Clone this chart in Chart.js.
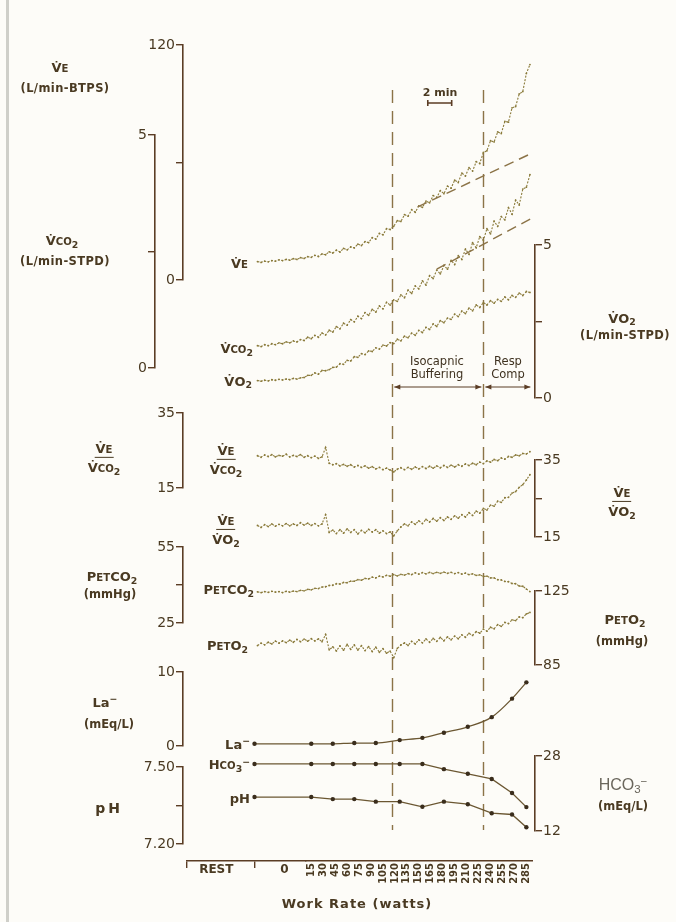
<!DOCTYPE html>
<html>
<head>
<meta charset="utf-8">
<script src="https://cdn.jsdelivr.net/npm/chart.js@4.4.1/dist/chart.umd.min.js"></script>
<style>
  html, body { margin: 0; padding: 0; background: #fdfcf8; }
  #wrap { position: relative; width: 676px; height: 922px; overflow: hidden; }
  #frame { position: absolute; left: 6px; top: 0; width: 3px; height: 922px; background: #cfcfc9; }
  #chart { position: absolute; left: 0; top: 0; }
  .t { position: absolute; white-space: nowrap; color: #4a3a22; font-family: "DejaVu Sans", sans-serif; font-weight: bold; line-height: 1; }
  .c { transform: translate(-50%, -50%); }
  .r { transform: translate(-100%, -50%); }
  .sm { font-size: 0.78em; }
  sub { font-size: 0.72em; vertical-align: -0.3em; line-height: 0; }
  sup { font-size: 0.72em; vertical-align: 0.45em; line-height: 0; }
  .frac { display: inline-flex; flex-direction: column; align-items: center; }
  .frac .n { border-bottom: 1.6px solid #4a3a22; padding: 0 1px 2px; }
  .frac .d { padding-top: 3px; }
  .thin { font-family: "Liberation Sans", sans-serif; font-weight: normal; color: #6a665c; }
  .phase { font-weight: normal; color: #3f3220; }
</style>
</head>
<body>
<div id="wrap">
  <div id="frame"></div>
  <canvas id="chart" width="676" height="922"></canvas>

  <!-- left-hand axis titles -->
  <div class="t c" style="left:60px;top:68px;font-size:13px">V&#775;<span class="sm">E</span></div>
  <div class="t c" style="left:65px;top:89px;font-size:11.5px;letter-spacing:0.4px">(L/min-BTPS)</div>
  <div class="t c" style="left:62px;top:241px;font-size:13px">V&#775;<span class="sm">CO</span><sub>2</sub></div>
  <div class="t c" style="left:65px;top:262px;font-size:11.5px;letter-spacing:0.4px">(L/min-STPD)</div>
  <div class="t c" style="left:104px;top:458px;font-size:13px"><span class="frac"><span class="n">V&#775;<span class="sm">E</span></span><span class="d">V&#775;<span class="sm">CO</span><sub>2</sub></span></span></div>
  <div class="t c" style="left:112px;top:577px;font-size:13px">P<span class="sm">ET</span>CO<sub>2</sub></div>
  <div class="t c" style="left:110px;top:595px;font-size:11.5px">(mmHg)</div>
  <div class="t c" style="left:105px;top:702px;font-size:13px">La<sup>&minus;</sup></div>
  <div class="t c" style="left:109px;top:725px;font-size:11.5px">(mEq/L)</div>
  <div class="t c" style="left:109px;top:808px;font-size:14px;letter-spacing:3px">pH</div>

  <!-- trace labels -->
  <div class="t r" style="left:248px;top:264px;font-size:13px">V&#775;<span class="sm">E</span></div>
  <div class="t r" style="left:253px;top:349px;font-size:13px">V&#775;<span class="sm">CO</span><sub>2</sub></div>
  <div class="t r" style="left:252px;top:381px;font-size:13px">V&#775;O<sub>2</sub></div>
  <div class="t c" style="left:226px;top:460px;font-size:13px"><span class="frac"><span class="n">V&#775;<span class="sm">E</span></span><span class="d">V&#775;<span class="sm">CO</span><sub>2</sub></span></span></div>
  <div class="t c" style="left:226px;top:530px;font-size:13px"><span class="frac"><span class="n">V&#775;<span class="sm">E</span></span><span class="d">V&#775;O<sub>2</sub></span></span></div>
  <div class="t r" style="left:254px;top:590px;font-size:13px">P<span class="sm">ET</span>CO<sub>2</sub></div>
  <div class="t r" style="left:248px;top:646px;font-size:13px">P<span class="sm">ET</span>O<sub>2</sub></div>
  <div class="t r" style="left:250px;top:744px;font-size:13px">La<sup>&minus;</sup></div>
  <div class="t r" style="left:250px;top:765px;font-size:13px">H<span class="sm">CO</span><sub>3</sub><sup>&minus;</sup></div>
  <div class="t r" style="left:250px;top:798px;font-size:13px">pH</div>

  <!-- right-hand axis titles -->
  <div class="t c" style="left:622px;top:318px;font-size:13px">V&#775;O<sub>2</sub></div>
  <div class="t c" style="left:625px;top:336px;font-size:11.5px;letter-spacing:0.4px">(L/min-STPD)</div>
  <div class="t c" style="left:622px;top:502px;font-size:13px"><span class="frac"><span class="n">V&#775;<span class="sm">E</span></span><span class="d">V&#775;O<sub>2</sub></span></span></div>
  <div class="t c" style="left:625px;top:620px;font-size:13px">P<span class="sm">ET</span>O<sub>2</sub></div>
  <div class="t c" style="left:622px;top:642px;font-size:11.5px">(mmHg)</div>
  <div class="t c thin" style="left:623px;top:785px;font-size:16px">HCO<sub>3</sub><sup>&minus;</sup></div>
  <div class="t c" style="left:623px;top:807px;font-size:11.5px">(mEq/L)</div>

  <!-- phase annotations -->
  <div class="t c" style="left:440px;top:92px;font-size:11px">2 min</div>
  <div class="t c phase" style="left:437px;top:362px;font-size:11.5px">Isocapnic</div>
  <div class="t c phase" style="left:437px;top:375px;font-size:11.5px">Buffering</div>
  <div class="t c phase" style="left:508px;top:362px;font-size:11.5px">Resp</div>
  <div class="t c phase" style="left:508px;top:375px;font-size:11.5px">Comp</div>
  <div class="t c" style="left:357px;top:903px;font-size:13px;letter-spacing:1px">Work Rate (watts)</div>
</div>

<script>
// ---- breath-by-breath gas exchange (time in minutes from start of unloaded cycling) ----
const breathTimes = [0,0.3,0.6,0.9,1.2,1.5,1.8,2.1,2.4,2.7,3,3.3,3.6,3.9,4.2,4.5,4.8,5.1,5.4,5.7,6,6.3,6.6,6.9,7.2,7.5,7.8,8.1,8.4,8.7,9,9.3,9.6,9.9,10.2,10.5,10.8,11.1,11.4,11.7,12,12.3,12.6,12.9,13.2,13.5,13.8,14.1,14.4,14.7,15,15.3,15.6,15.9,16.2,16.5,16.8,17.1,17.4,17.7,18,18.3,18.6,18.9,19.2,19.5,19.8,20.1,20.4,20.7,21,21.3,21.6,21.9,22.2,22.5,22.8];

// VE, L/min BTPS
const veValues = [9.4,9.0,9.6,9.3,9.9,9.6,10.3,9.9,10.5,10.1,10.9,10.5,11.4,11.0,11.9,11.6,12.6,12.0,13.3,12.9,14.4,13.8,15.2,14.3,16.1,15.4,16.9,16.4,18.3,17.6,19.6,19.1,21.6,20.9,23.8,23.1,26.2,25.8,27.4,30.3,29.9,33.4,32.6,35.9,34.6,37.8,37.1,40.3,39.4,43.1,42.2,45.6,44.1,47.9,46.9,51.0,49.8,54.6,53.1,57.4,55.6,60.4,59.5,65.1,66.0,71.1,70.5,75.6,74.8,81.0,80.6,87.9,88.6,95.0,96.2,105.5,110];
// VCO2, L/min STPD
const vco2Values = [0.48,0.46,0.50,0.48,0.52,0.50,0.54,0.52,0.56,0.54,0.58,0.56,0.61,0.59,0.66,0.63,0.70,0.66,0.75,0.71,0.81,0.77,0.89,0.84,0.96,0.92,1.04,0.99,1.11,1.06,1.19,1.13,1.26,1.20,1.33,1.27,1.41,1.35,1.46,1.43,1.57,1.51,1.67,1.60,1.76,1.70,1.87,1.78,1.98,1.92,2.10,2.02,2.20,2.12,2.31,2.22,2.41,2.33,2.55,2.44,2.69,2.58,2.82,2.74,2.99,2.88,3.15,3.04,3.25,3.18,3.44,3.30,3.60,3.50,3.84,3.88,4.15];
// VO2, L/min STPD
const vo2Values = [0.57,0.55,0.58,0.56,0.60,0.58,0.61,0.59,0.62,0.60,0.64,0.62,0.66,0.67,0.74,0.74,0.82,0.78,0.90,0.89,0.93,1.00,1.01,1.12,1.10,1.23,1.21,1.35,1.33,1.45,1.42,1.54,1.52,1.64,1.60,1.73,1.70,1.81,1.78,1.92,1.87,2.02,1.97,2.12,2.05,2.21,2.14,2.31,2.24,2.42,2.34,2.53,2.46,2.61,2.57,2.74,2.66,2.84,2.76,2.94,2.85,3.04,2.96,3.12,3.04,3.18,3.10,3.22,3.16,3.30,3.21,3.35,3.29,3.43,3.35,3.48,3.45];
// ventilatory equivalents
const veVco2Values = [23.6,23.2,23.8,23.4,23.9,23.3,23.7,23.5,24.0,23.3,23.7,23.4,23.9,23.2,23.6,23.1,23.5,22.9,23.3,25.8,21.6,21.2,21.5,20.9,21.3,20.8,21.2,20.6,21.0,20.5,20.9,20.3,20.7,20.1,20.5,19.9,20.3,19.8,19.3,20.0,20.4,19.9,20.5,20.0,20.6,20.1,20.7,20.2,20.8,20.3,20.9,20.4,21.0,20.5,21.1,20.6,21.2,20.8,21.4,21.0,21.6,21.2,21.9,21.5,22.2,21.9,22.6,22.3,23.0,22.7,23.4,23.2,23.8,23.6,24.2,24.1,24.7];
const veVo2Values = [18.0,17.5,18.2,17.7,18.4,17.8,18.3,17.9,18.5,17.9,18.4,18.0,18.7,18.1,18.6,18.0,18.5,17.9,18.4,20.8,16.2,16.8,15.9,16.9,16.0,17.1,16.2,16.9,15.8,16.7,16.1,17.0,16.3,16.9,16.0,16.6,15.9,16.3,15.3,16.6,17.6,18.4,17.9,18.9,18.3,19.2,18.5,19.6,18.9,19.8,19.1,20.0,19.3,20.2,19.6,20.5,19.9,20.8,20.2,21.3,20.6,21.7,21.2,22.4,22.0,23.3,23.0,24.3,24.0,25.2,25.3,26.4,26.8,27.9,28.6,29.8,31.2];
// end-tidal pressures, mmHg
const petco2Values = [37.3,37.0,37.4,37.1,37.5,37.2,37.4,37.0,37.5,37.2,37.6,37.4,37.9,37.7,38.3,38.1,38.7,38.6,39.2,39.3,39.8,39.9,40.5,40.4,41.0,40.9,41.5,41.5,42.1,41.9,42.6,42.4,43.1,42.8,43.5,43.2,43.8,43.5,44.1,43.6,44.2,43.9,44.5,44.1,44.8,44.3,44.9,44.4,45.0,44.5,45.0,44.6,45.1,44.6,45.0,44.5,44.9,44.3,44.7,44.1,44.4,43.8,44.0,43.4,43.5,42.8,42.8,42.1,42.0,41.4,41.3,40.6,40.5,39.6,39.5,38.4,37.4];
const peto2Values = [95.5,96.8,95.9,97.3,96.4,97.9,96.8,98.0,97.1,98.4,97.3,98.8,97.6,99.0,97.9,99.2,98.0,99.1,97.6,101.5,93.2,94.8,92.6,95.3,93.0,96.1,93.5,95.8,93.1,95.4,92.8,94.9,92.3,94.6,91.9,93.8,91.4,92.5,89.0,94.0,95.8,96.9,95.6,97.8,96.4,98.6,97.0,99.1,97.3,99.4,97.8,99.9,98.1,100.2,98.6,100.6,99.2,101.3,100.0,102.1,101.0,103.0,102.2,104.4,103.3,105.4,104.6,106.8,105.9,108.0,107.4,109.4,109.0,111.0,110.6,112.6,113.4];

// ---- arterial blood samples ----
const sampleTimes = [-0.25, 4.5, 6.3, 8.1, 9.9, 11.9, 13.8, 15.6, 17.6, 19.6, 21.3, 22.5];
const lactate = [0.3, 0.3, 0.3, 0.4, 0.4, 0.8, 1.1, 1.8, 2.6, 3.9, 6.4, 8.6];           // mEq/L
const bicarbonate = [26.3, 26.3, 26.3, 26.3, 26.3, 26.3, 26.3, 25.2, 24.2, 23.1, 20.1, 17.1]; // mEq/L
const bloodPH = [7.383, 7.383, 7.375, 7.375, 7.365, 7.365, 7.345, 7.365, 7.355, 7.32, 7.315, 7.265];

// ---- linear trends through the isocapnic buffering phase ----
const veTrendTimes = [13.4, 22.8];
const veTrendValues = [37.3, 64.3];
const vco2TrendTimes = [15.0, 22.85];
const vco2TrendValues = [2.12, 3.2];

// ---- phase boundaries and scale bar (minutes) ----
const thresholdTimes = [11.28, 18.9];
const exerciseEnd = 23.0;
const scaleBarTimes = [14.25, 16.25];

// ---- axis ticks ----
const veTicks = [0, 60, 120];
const vco2Ticks = [0, 2.5, 5];
const vo2Ticks = [0, 2.5, 5];
const ratioTicks = [15, 25, 35];
const petco2Ticks = [25, 40, 55];
const peto2Ticks = [85, 105, 125];
const lactateTicks = [0, 5, 10];
const phTicks = [7.20, 7.35, 7.50];
const hco3Ticks = [12, 20, 28];
const workRates = [15, 30, 45, 60, 75, 90, 105, 120, 135, 150, 165, 180, 195, 210, 225, 240, 255, 270, 285];
const workRateTimes = [4.5, 5.5, 6.5, 7.5, 8.5, 9.5, 10.5, 11.5, 12.5, 13.5, 14.5, 15.5, 16.5, 17.5, 18.5, 19.5, 20.5, 21.5, 22.5];
const restTickTimes = [-5.9, -3.45, -0.25, 2.25];
const restTickLabels = ['', 'REST', '', '0'];

// ---- styling / page geometry ----
const AX = '#5b3d25', TXT = '#4a3a22', TRACE = '#8a7a3a', DASH = '#8b7347', BLOOD = '#6b5732', DOT = '#3a2d1c';
const LAYOUT = { thresholdTop: 90, thresholdBottom: 830, phaseArrowY: 387, scaleBarY: 103,
                 timeMin: -6.234, timeMax: 23.222, tickLen: 7 };
const FONT = 'DejaVu Sans';
const TICK_FONT_SIZE = 14;

const pts = (xs, ys) => xs.map((x, i) => ({ x, y: ys[i] }));
const measureCtx = document.createElement('canvas').getContext('2d');
function widestLabel(labels) {
  measureCtx.font = `${TICK_FONT_SIZE}px ${FONT}`;
  return Math.max(...labels.map(l => measureCtx.measureText(l).width));
}

// one bracket-style value axis; inner-left axes draw their numbers over the neighbouring column
function bracketAxis(side, stack, slot, order, ticks, width, digits, overhang) {
  const fmt = (v, i) => (i === 1 ? '' : Number(v).toFixed(digits));
  const tickOpts = { padding: 1, color: TXT, font: { family: FONT, size: TICK_FONT_SIZE }, callback: fmt };
  if (overhang) {
    const w = widestLabel(ticks.map(fmt));
    Object.assign(tickOpts, { mirror: true, crossAlign: 'far', padding: -(LAYOUT.tickLen + 1) - w });
  }
  return {
    type: 'linear', position: side, stack, stackWeight: slot, weight: order,
    min: ticks[0], max: ticks[ticks.length - 1],
    afterBuildTicks: s => { s.ticks = ticks.map(v => ({ value: v })); },
    afterFit: s => { s.width = width; },
    border: { display: true, color: AX, width: 1.6 },
    grid: { drawOnChartArea: false, drawTicks: true, tickLength: LAYOUT.tickLen, color: AX, lineWidth: 1.4 },
    ticks: tickOpts
  };
}
function blank(axis, side, stack, slot, order, size) {
  return {
    type: 'linear', axis, position: side, stack, stackWeight: slot, weight: order, min: 0, max: 1,
    afterFit: s => { if (axis === 'y') s.width = size; else s.height = size; },
    border: { display: false }, grid: { display: false }, ticks: { display: false }
  };
}

function trace(label, values, axis) {
  return {
    label, data: pts(breathTimes, values), yAxisID: axis, xAxisID: 'x',
    borderColor: TRACE, borderWidth: 1.1, borderDash: [2, 1.5],
    pointRadius: 0.9, pointBackgroundColor: TRACE, pointBorderWidth: 0, tension: 0
  };
}
function trend(label, xs, ys, axis) {
  return {
    label, data: pts(xs, ys), yAxisID: axis, xAxisID: 'x',
    borderColor: DASH, borderWidth: 1.4, borderDash: [10, 6], pointRadius: 0
  };
}
function blood(label, values, axis, smooth) {
  return {
    label, data: pts(sampleTimes, values), yAxisID: axis, xAxisID: 'x',
    borderColor: BLOOD, borderWidth: 1.3, pointRadius: 2.2, pointBackgroundColor: DOT, pointBorderWidth: 0,
    cubicInterpolationMode: smooth ? 'monotone' : 'default', tension: 0
  };
}

// dashed phase boundaries, phase arrows and the 2-minute scale bar
const phaseMarks = {
  id: 'phaseMarks',
  beforeDatasetsDraw(chart) {
    const { ctx } = chart;
    const xs = chart.scales.x;
    ctx.save();
    ctx.strokeStyle = DASH;
    ctx.lineWidth = 1.4;
    ctx.setLineDash([13, 8]);
    thresholdTimes.forEach(t => {
      const px = Math.round(xs.getPixelForValue(t)) + 0.5;
      ctx.beginPath(); ctx.moveTo(px, LAYOUT.thresholdTop); ctx.lineTo(px, LAYOUT.thresholdBottom); ctx.stroke();
    });
    ctx.setLineDash([]);
    ctx.strokeStyle = AX; ctx.fillStyle = AX; ctx.lineWidth = 1.1;
    const arrow = (t0, t1) => {
      const a = xs.getPixelForValue(t0) + 2, b = xs.getPixelForValue(t1) - 2, y = LAYOUT.phaseArrowY;
      ctx.beginPath(); ctx.moveTo(a, y); ctx.lineTo(b, y); ctx.stroke();
      [[a, 1], [b, -1]].forEach(([p, d]) => {
        ctx.beginPath(); ctx.moveTo(p, y); ctx.lineTo(p + 6 * d, y - 2.5); ctx.lineTo(p + 6 * d, y + 2.5); ctx.closePath(); ctx.fill();
      });
    };
    arrow(thresholdTimes[0], thresholdTimes[1]);
    arrow(thresholdTimes[1], exerciseEnd);
    const s0 = xs.getPixelForValue(scaleBarTimes[0]), s1 = xs.getPixelForValue(scaleBarTimes[1]), sy = LAYOUT.scaleBarY;
    ctx.lineWidth = 1.6;
    ctx.beginPath();
    ctx.moveTo(s0, sy); ctx.lineTo(s1, sy);
    ctx.moveTo(s0, sy - 3); ctx.lineTo(s0, sy + 3);
    ctx.moveTo(s1, sy - 3); ctx.lineTo(s1, sy + 3);
    ctx.stroke();
    ctx.restore();
  }
};

new Chart(document.getElementById('chart'), {
  type: 'line',
  data: {
    datasets: [
      trend('VE trend', veTrendTimes, veTrendValues, 'yVE'),
      trend('VCO2 trend', vco2TrendTimes, vco2TrendValues, 'yVCO2'),
      trace('VE', veValues, 'yVE'),
      trace('VCO2', vco2Values, 'yVCO2'),
      trace('VO2', vo2Values, 'yVO2'),
      trace('VE/VCO2', veVco2Values, 'yEqCO2'),
      trace('VE/VO2', veVo2Values, 'yEqO2'),
      trace('PETCO2', petco2Values, 'yPetCO2'),
      trace('PETO2', peto2Values, 'yPetO2'),
      blood('La', lactate, 'yLa', true),
      blood('HCO3', bicarbonate, 'yHCO3', false),
      blood('pH', bloodPH, 'yPH', false)
    ]
  },
  options: {
    responsive: false,
    animation: false,
    devicePixelRatio: 1,
    layout: { padding: { left: 100, right: 101, top: 45, bottom: 21 } },
    plugins: { legend: { display: false }, tooltip: { enabled: false } },
    scales: {
      // outer left column: VCO2
      yGapB1: blank('y', 'left', 'outer', 90, 30, 55),
      yVCO2: bracketAxis('left', 'outer', 233, 29, vco2Ticks, 55, 0, false),
      yGapB2: blank('y', 'left', 'outer', 493, 28, 55),
      // inner left column
      yVE: bracketAxis('left', 'inner', 235, 20, veTicks, 28, 0, true),
      yGapA1: blank('y', 'left', 'inner', 133, 19, 28),
      yEqCO2: bracketAxis('left', 'inner', 75, 18, ratioTicks, 28, 0, true),
      yGapA2: blank('y', 'left', 'inner', 59, 17, 28),
      yPetCO2: bracketAxis('left', 'inner', 76, 16, petco2Ticks, 28, 0, true),
      yGapA3: blank('y', 'left', 'inner', 49, 15, 28),
      yLa: bracketAxis('left', 'inner', 74, 14, lactateTicks, 28, 0, true),
      yGapA4: blank('y', 'left', 'inner', 21, 13, 28),
      yPH: bracketAxis('left', 'inner', 77, 12, phTicks, 28, 2, true),
      yGapA5: blank('y', 'left', 'inner', 17, 11, 28),
      // right column
      yGapC1: blank('y', 'right', 'rcol', 200, 1, 40),
      yVO2: bracketAxis('right', 'rcol', 153, 2, vo2Ticks, 40, 0, false),
      yGapC2: blank('y', 'right', 'rcol', 62, 3, 40),
      yEqO2: bracketAxis('right', 'rcol', 77, 4, ratioTicks, 40, 0, false),
      yGapC3: blank('y', 'right', 'rcol', 54, 5, 40),
      yPetO2: bracketAxis('right', 'rcol', 74, 6, peto2Ticks, 40, 0, false),
      yGapC4: blank('y', 'right', 'rcol', 91, 7, 40),
      yHCO3: bracketAxis('right', 'rcol', 75, 8, hco3Ticks, 40, 0, false),
      yGapC5: blank('y', 'right', 'rcol', 30, 9, 40),
      // time axis: rest + unloaded segment, then the 15-W increments
      xPadL: blank('x', 'bottom', 'time', 4, 0, 40),
      xRest: {
        type: 'linear', axis: 'x', position: 'bottom', stack: 'time', stackWeight: 118.3, weight: 1,
        min: -5.9, max: 4,
        afterBuildTicks: s => { s.ticks = restTickTimes.map(v => ({ value: v })); },
        afterFit: s => { s.height = 40; },
        border: { display: true, color: AX, width: 1.6 },
        grid: { drawOnChartArea: false, drawTicks: true, tickLength: 7, lineWidth: 1.4,
          color: c => (restTickLabels[c.index] ? 'rgba(0,0,0,0)' : AX) },
        ticks: { padding: -5, color: TXT, maxRotation: 0, autoSkip: false,
          font: { family: FONT, size: 12, weight: 'bold' },
          callback: (v, i) => restTickLabels[i] }
      },
      xWork: {
        type: 'linear', axis: 'x', position: 'bottom', stack: 'time', stackWeight: 227.05, weight: 2,
        min: 4, max: 23,
        afterBuildTicks: s => { s.ticks = workRateTimes.map(v => ({ value: v })); },
        afterFit: s => { s.height = 40; },
        border: { display: true, color: AX, width: 1.6 },
        grid: { drawOnChartArea: false, drawTicks: false },
        ticks: { padding: 2, color: TXT, minRotation: 90, maxRotation: 90, autoSkip: false,
          font: { family: FONT, size: 10, weight: 'bold' },
          callback: (v, i) => String(workRates[i]) }
      },
      xPadR: blank('x', 'bottom', 'time', 2.65, 3, 40),
      // full-width time scale the data are plotted on
      x: { type: 'linear', axis: 'x', position: 'bottom', weight: 10, display: false,
           min: LAYOUT.timeMin, max: LAYOUT.timeMax }
    }
  },
  plugins: [phaseMarks]
});
</script>
</body>
</html>
